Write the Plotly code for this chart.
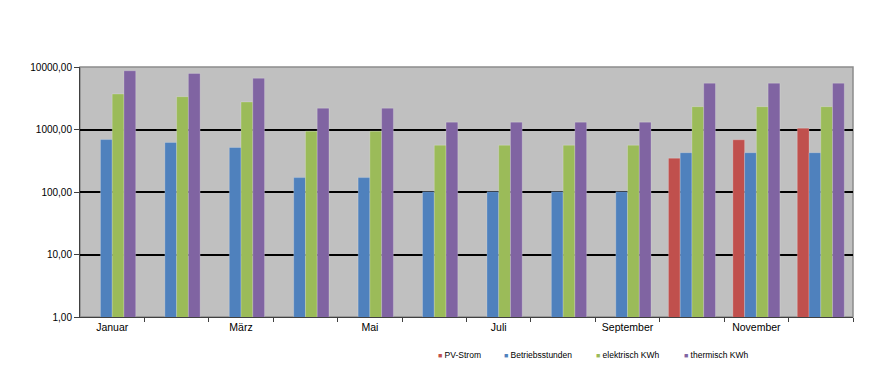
import plotly.graph_objects as go

months = ["Januar", "Februar", "März", "April", "Mai", "Juni", "Juli",
          "August", "September", "Oktober", "November", "Dezember"]
pv_strom = [None, None, None, None, None, None, None, None, None, 347, 684, 1050]
betriebsstunden = [690, 620, 515, 170, 170, 101, 101, 101, 101, 425, 425, 425]
elektrisch = [3700, 3350, 2760, 940, 940, 560, 560, 560, 560, 2320, 2320, 2320]
thermisch = [8700, 7900, 6600, 2190, 2190, 1310, 1310, 1310, 1310, 5500, 5500, 5500]

series_names = ["PV-Strom", "Betriebsstunden", "elektrisch KWh", "thermisch KWh"]
series_values = [pv_strom, betriebsstunden, elektrisch, thermisch]
series_colors = ["#C0504D", "#4F81BD", "#9BBB59", "#8064A2"]

ytickvals = [1, 10, 100, 1000, 10000]
yticktext = ["1,00", "10,00", "100,00", "1000,00", "10000,00"]
xlabel_idx = [0, 2, 4, 6, 8, 10]

x = list(range(len(months)))
fig = go.Figure()
for name, vals, col in zip(series_names, series_values, series_colors):
    fig.add_trace(go.Bar(x=x, y=vals, name=name, marker_color=col,
                         marker_line=dict(color="rgba(255,255,255,0.35)", width=0.6)))

# helper trace carrying boundary tick marks on a second x axis
fig.add_trace(go.Scatter(x=[-0.5, 11.5], y=[1, 1], xaxis="x2", mode="lines",
                         line=dict(width=0), showlegend=False, hoverinfo="skip"))

font = "Liberation Sans, Arial, sans-serif"

# compact legend (small square + label) as annotations
legend_x = [0.4605, 0.546, 0.665, 0.779]
annotations = []
for name, col, lx in zip(series_names, series_colors, legend_x):
    annotations.append(dict(
        xref="paper", yref="paper", x=lx, y=-0.152, xanchor="left", yanchor="middle",
        showarrow=False,
        text=f"<span style='color:{col};font-size:7px'>■</span> {name}",
        font=dict(size=8.5, family=font, color="black")))

fig.update_layout(
    width=866, height=375,
    margin=dict(l=72, r=21, t=59, b=66),
    paper_bgcolor="white", plot_bgcolor="#C0C0C0",
    barmode="group", bargap=0.27, bargroupgap=0,
    font=dict(family=font, size=10, color="black"),
    showlegend=False,
    annotations=annotations,
    xaxis=dict(range=[-0.5, 11.5], tickmode="array", tickvals=xlabel_idx,
               ticktext=[months[i] for i in xlabel_idx], ticks="", showgrid=False,
               showline=True, linecolor="#404040", linewidth=1, mirror=False,
               tickfont=dict(size=10.5), zeroline=False),
    xaxis2=dict(range=[-0.5, 11.5], overlaying="x", side="bottom", tickmode="array",
                tickvals=[i + 0.5 for i in range(12)], ticktext=[""] * 12,
                ticks="outside", ticklen=4, tickcolor="#404040", showgrid=False,
                showline=False, zeroline=False),
    yaxis=dict(type="log", range=[0, 4], tickvals=ytickvals, ticktext=yticktext,
               showgrid=True, gridcolor="black", gridwidth=2,
               ticks="outside", ticklen=5, tickcolor="#404040",
               showline=True, linecolor="#404040", linewidth=1, zeroline=False,
               tickfont=dict(size=10)),
    shapes=[dict(type="rect", xref="paper", yref="paper", x0=0, x1=1, y0=0, y1=1,
                 line=dict(color="#8C8C8C", width=1.5), fillcolor="rgba(0,0,0,0)",
                 layer="below")],
)

fig.write_html("out.html")
